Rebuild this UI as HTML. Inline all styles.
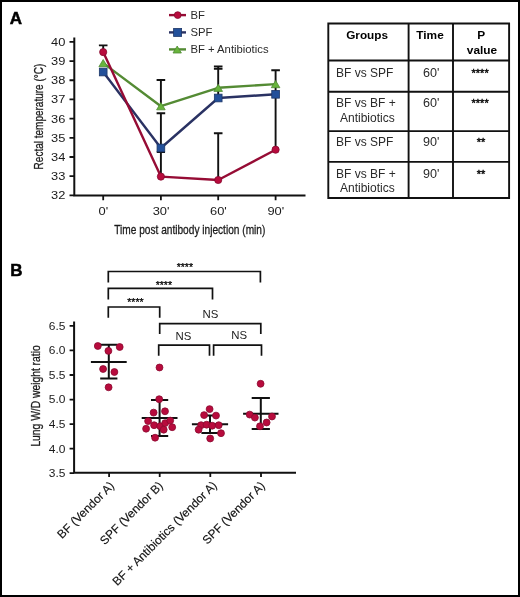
<!DOCTYPE html><html><head><meta charset="utf-8"><style>html,body{margin:0;padding:0;background:#fff;width:520px;height:597px;overflow:hidden}svg{display:block;will-change:transform}text{font-family:"Liberation Sans",sans-serif}</style></head><body><svg width="520" height="597" viewBox="0 0 520 597" font-family="Liberation Sans, sans-serif" fill="#1a1a1a"><rect x="1" y="1" width="518" height="595" fill="none" stroke="#000" stroke-width="2"/><text x="9.8" y="24" font-size="17" font-weight="bold" fill="#000" stroke="#000" stroke-width="0.5">A</text><text x="10.3" y="275.9" font-size="17" font-weight="bold" fill="#000" stroke="#000" stroke-width="0.5">B</text><path d="M74.3 37.5V196.4M73.3 195.4H305.5" stroke="#111" stroke-width="2" fill="none"/><path d="M69.5 195.40H74.3M69.5 176.21H74.3M69.5 157.02H74.3M69.5 137.83H74.3M69.5 118.64H74.3M69.5 99.45H74.3M69.5 80.26H74.3M69.5 61.07H74.3M69.5 41.88H74.3M103.2 195.4V200.2M160.9 195.4V200.2M218.2 195.4V200.2M275.6 195.4V200.2" stroke="#111" stroke-width="1.8" fill="none"/><text x="0" y="0" transform="translate(65.3 199.30) scale(1.17 1)" text-anchor="end" font-size="11">32</text><text x="0" y="0" transform="translate(65.3 180.11) scale(1.17 1)" text-anchor="end" font-size="11">33</text><text x="0" y="0" transform="translate(65.3 160.92) scale(1.17 1)" text-anchor="end" font-size="11">34</text><text x="0" y="0" transform="translate(65.3 141.73) scale(1.17 1)" text-anchor="end" font-size="11">35</text><text x="0" y="0" transform="translate(65.3 122.54) scale(1.17 1)" text-anchor="end" font-size="11">36</text><text x="0" y="0" transform="translate(65.3 103.35) scale(1.17 1)" text-anchor="end" font-size="11">37</text><text x="0" y="0" transform="translate(65.3 84.16) scale(1.17 1)" text-anchor="end" font-size="11">38</text><text x="0" y="0" transform="translate(65.3 64.97) scale(1.17 1)" text-anchor="end" font-size="11">39</text><text x="0" y="0" transform="translate(65.3 45.78) scale(1.17 1)" text-anchor="end" font-size="11">40</text><text x="0" y="0" transform="translate(103.4 214.5) scale(1.17 1)" text-anchor="middle" font-size="11">0'</text><text x="0" y="0" transform="translate(161.1 214.5) scale(1.17 1)" text-anchor="middle" font-size="11">30'</text><text x="0" y="0" transform="translate(218.39999999999998 214.5) scale(1.17 1)" text-anchor="middle" font-size="11">60'</text><text x="0" y="0" transform="translate(275.8 214.5) scale(1.17 1)" text-anchor="middle" font-size="11">90'</text><text x="0" y="0" transform="translate(114.2 234.3) scale(0.757 1)" font-size="13.4" stroke="#1a1a1a" stroke-width="0.3">Time post antibody injection (min)</text><text x="0" y="0" transform="translate(42.7 169.4) rotate(-90) scale(0.747 1)" font-size="13.4" stroke="#1a1a1a" stroke-width="0.3">Rectal temperature (°C)</text><path d="M103.2 45.4V52M98.9 45.4H107.5M160.9 80V104M156.6 80H165.20000000000002M160.9 113.3V176.6M156.6 113.3H165.20000000000002M156.8 152H165.0M218.2 66.4V98M213.89999999999998 66.4H222.5M213.89999999999998 68.8H222.5M218.2 133.2V180M213.89999999999998 133.2H222.5M275.6 70.3V149.7M271.3 70.3H279.90000000000003" stroke="#111" stroke-width="1.9" fill="none"/><path d="M103.2 63.1 L160.9 106.2 L218.2 87.8 L275.6 84.1" stroke="#548b34" stroke-width="2.4" fill="none" stroke-linejoin="round"/><path d="M103.2 72 L160.9 148 L218.2 98 L275.6 94.3" stroke="#2a3263" stroke-width="2.4" fill="none" stroke-linejoin="round"/><path d="M103.2 52.1 L160.9 176.6 L218.2 180 L275.6 149.7" stroke="#960c35" stroke-width="2.4" fill="none" stroke-linejoin="round"/><path d="M103.2 59.50L107.50 66.70L98.90 66.70Z" fill="#68b43c" stroke="#4f8a32" stroke-width="0.8"/><path d="M160.9 102.60L165.20 109.80L156.60 109.80Z" fill="#68b43c" stroke="#4f8a32" stroke-width="0.8"/><path d="M218.2 84.20L222.50 91.40L213.90 91.40Z" fill="#68b43c" stroke="#4f8a32" stroke-width="0.8"/><path d="M275.6 80.50L279.90 87.70L271.30 87.70Z" fill="#68b43c" stroke="#4f8a32" stroke-width="0.8"/><rect x="99.35" y="68.15" width="7.7" height="7.7" fill="#23509a" stroke="#1e3768" stroke-width="0.8"/><rect x="157.05" y="144.15" width="7.7" height="7.7" fill="#23509a" stroke="#1e3768" stroke-width="0.8"/><rect x="214.35" y="94.15" width="7.7" height="7.7" fill="#23509a" stroke="#1e3768" stroke-width="0.8"/><rect x="271.75" y="90.45" width="7.7" height="7.7" fill="#23509a" stroke="#1e3768" stroke-width="0.8"/><circle cx="103.2" cy="52.1" r="3.6" fill="#b80b3d" stroke="#850a2e" stroke-width="0.8"/><circle cx="160.9" cy="176.6" r="3.6" fill="#b80b3d" stroke="#850a2e" stroke-width="0.8"/><circle cx="218.2" cy="180" r="3.6" fill="#b80b3d" stroke="#850a2e" stroke-width="0.8"/><circle cx="275.6" cy="149.7" r="3.6" fill="#b80b3d" stroke="#850a2e" stroke-width="0.8"/><path d="M169 15.1H186" stroke="#960c35" stroke-width="2.4"/><circle cx="177.7" cy="15.1" r="3.4" fill="#b80b3d" stroke="#850a2e" stroke-width="0.8"/><path d="M169 32.4H186" stroke="#2a3263" stroke-width="2.4"/><rect x="173.60" y="28.40" width="8" height="8" fill="#23509a" stroke="#1e3768" stroke-width="0.8"/><path d="M169 49.4H186" stroke="#548b34" stroke-width="2.4"/><path d="M177.2 46.00L181.40 53.00L173.00 53.00Z" fill="#68b43c" stroke="#4f8a32" stroke-width="0.8"/><text x="190.4" y="19" font-size="11.3" fill="#2a2a2a">BF</text><text x="190.4" y="36.2" font-size="11.3" fill="#2a2a2a">SPF</text><text x="190.4" y="53" font-size="11.3" fill="#2a2a2a">BF + Antibiotics</text><path d="M327.5 23.5H510M327.5 60.5H510M327.5 91.8H510M327.5 131.1H510M327.5 161.9H510M327.5 198H510M328.3 22.6V198.9M408.6 22.6V198.9M453 22.6V198.9M509.1 22.6V198.9" stroke="#111" stroke-width="1.9" fill="none"/><text x="0" y="0" transform="translate(367.1 38.6) scale(1.07 1)" font-size="11" text-anchor="middle" font-weight="bold" fill="#000">Groups</text><text x="0" y="0" transform="translate(430 38.6) scale(1.08 1)" font-size="11" text-anchor="middle" font-weight="bold" fill="#000">Time</text><text x="0" y="0" transform="translate(481.3 38.6) scale(1.08 1)" font-size="11" text-anchor="middle" font-weight="bold" fill="#000">P</text><text x="0" y="0" transform="translate(482 53.8) scale(1.08 1)" font-size="11" text-anchor="middle" font-weight="bold" fill="#000">value</text><text x="0" y="0" transform="translate(336.0 76.9) scale(1.0 1)" font-size="12" text-anchor="start" font-weight="normal" fill="#2a2a2a">BF vs SPF</text><text x="0" y="0" transform="translate(431.2 76.9) scale(1.05 1)" font-size="12" text-anchor="middle" font-weight="normal" fill="#2a2a2a">60'</text><text x="0" y="0" transform="translate(480.1 76.60000000000001) scale(1.1 1)" font-size="10" text-anchor="middle" fill="#000" stroke="#000" stroke-width="0.35">****</text><text x="0" y="0" transform="translate(336.0 107.2) scale(1.0 1)" font-size="12" text-anchor="start" font-weight="normal" fill="#2a2a2a">BF vs BF +</text><text x="0" y="0" transform="translate(340.0 121.60000000000001) scale(1.0 1)" font-size="12" text-anchor="start" font-weight="normal" fill="#2a2a2a">Antibiotics</text><text x="0" y="0" transform="translate(431.2 107.2) scale(1.05 1)" font-size="12" text-anchor="middle" font-weight="normal" fill="#2a2a2a">60'</text><text x="0" y="0" transform="translate(480.1 106.9) scale(1.1 1)" font-size="10" text-anchor="middle" fill="#000" stroke="#000" stroke-width="0.35">****</text><text x="0" y="0" transform="translate(336.0 145.9) scale(1.0 1)" font-size="12" text-anchor="start" font-weight="normal" fill="#2a2a2a">BF vs SPF</text><text x="0" y="0" transform="translate(431.2 145.9) scale(1.05 1)" font-size="12" text-anchor="middle" font-weight="normal" fill="#2a2a2a">90'</text><text x="0" y="0" transform="translate(481 145.6) scale(1.1 1)" font-size="10" text-anchor="middle" fill="#000" stroke="#000" stroke-width="0.35">**</text><text x="0" y="0" transform="translate(336.0 177.8) scale(1.0 1)" font-size="12" text-anchor="start" font-weight="normal" fill="#2a2a2a">BF vs BF +</text><text x="0" y="0" transform="translate(340.0 192.20000000000002) scale(1.0 1)" font-size="12" text-anchor="start" font-weight="normal" fill="#2a2a2a">Antibiotics</text><text x="0" y="0" transform="translate(431.2 177.8) scale(1.05 1)" font-size="12" text-anchor="middle" font-weight="normal" fill="#2a2a2a">90'</text><text x="0" y="0" transform="translate(481 177.5) scale(1.1 1)" font-size="10" text-anchor="middle" fill="#000" stroke="#000" stroke-width="0.35">**</text><path d="M74.1 321.4V473.7M73.1 472.7H296" stroke="#111" stroke-width="2" fill="none"/><path d="M69.6 473.20H74.1M69.6 448.65H74.1M69.6 424.10H74.1M69.6 399.55H74.1M69.6 375.00H74.1M69.6 350.45H74.1M69.6 325.90H74.1M109.1 472.7V477M159.7 472.7V477M210.3 472.7V477M261 472.7V477" stroke="#111" stroke-width="1.8" fill="none"/><text x="0" y="0" transform="translate(65.5 477.10) scale(1.09 1)" text-anchor="end" font-size="11">3.5</text><text x="0" y="0" transform="translate(65.5 452.55) scale(1.09 1)" text-anchor="end" font-size="11">4.0</text><text x="0" y="0" transform="translate(65.5 428.00) scale(1.09 1)" text-anchor="end" font-size="11">4.5</text><text x="0" y="0" transform="translate(65.5 403.45) scale(1.09 1)" text-anchor="end" font-size="11">5.0</text><text x="0" y="0" transform="translate(65.5 378.90) scale(1.09 1)" text-anchor="end" font-size="11">5.5</text><text x="0" y="0" transform="translate(65.5 354.35) scale(1.09 1)" text-anchor="end" font-size="11">6.0</text><text x="0" y="0" transform="translate(65.5 329.80) scale(1.09 1)" text-anchor="end" font-size="11">6.5</text><text x="0" y="0" transform="translate(40.2 446.6) rotate(-90) scale(0.769 1)" font-size="13.4" stroke="#1a1a1a" stroke-width="0.3">Lung W/D weight ratio</text><text x="0" y="0" transform="translate(114.9 486.5) rotate(-45)" text-anchor="end" font-size="11.9" fill="#111" stroke="#111" stroke-width="0.15">BF (Vendor A)</text><text x="0" y="0" transform="translate(163.6 486.5) rotate(-45)" text-anchor="end" font-size="11.9" fill="#111" stroke="#111" stroke-width="0.15">SPF (Vendor B)</text><text x="0" y="0" transform="translate(217.6 486.1) rotate(-45)" text-anchor="end" font-size="11.9" fill="#111" stroke="#111" stroke-width="0.15">BF + Antibiotics (Vendor A)</text><text x="0" y="0" transform="translate(265.6 486.5) rotate(-45)" text-anchor="end" font-size="11.9" fill="#111" stroke="#111" stroke-width="0.15">SPF (Vendor A)</text><path d="M108.3 282.4V271.5H260.4V282.4M108.3 299.4V288.4H212.5V299.4M108.3 317.8V307H159.7V317.8M159.7 334V323.7H260.8V334M158.7 355.8V345.2H209.5V355.8M213.6 355.8V345.2H261.5V355.8" stroke="#111" stroke-width="1.7" fill="none"/><text x="184.85" y="271.1" font-size="10.5" text-anchor="middle" fill="#000" stroke="#000" stroke-width="0.25">****</text><text x="163.85" y="288.9" font-size="10.5" text-anchor="middle" fill="#000" stroke="#000" stroke-width="0.25">****</text><text x="135.45" y="305.5" font-size="10.5" text-anchor="middle" fill="#000" stroke="#000" stroke-width="0.25">****</text><text x="210.35" y="317.8" font-size="11.4" text-anchor="middle" fill="#222">NS</text><text x="183.45" y="340.1" font-size="11.4" text-anchor="middle" fill="#222">NS</text><text x="239.1" y="339.4" font-size="11.4" text-anchor="middle" fill="#222">NS</text><path d="M108.8 344.8V378.4M100.2 344.8H117.39999999999999M100.2 378.4H117.39999999999999M90.9 361.9H126.69999999999999M159.6 399.9V435.9M151.0 399.9H168.2M151.0 435.9H168.2M141.7 418H177.5M210 415.6V433M201.4 415.6H218.6M201.4 433H218.6M191.9 424.2H228.1M260.8 398V429M251.70000000000002 398H269.90000000000003M251.70000000000002 429H269.90000000000003M243.10000000000002 413.8H278.5" stroke="#111" stroke-width="2" fill="none"/><circle cx="97.8" cy="346" r="3.45" fill="#b80b3d" stroke="#8a0a30" stroke-width="0.8"/><circle cx="119.7" cy="347" r="3.45" fill="#b80b3d" stroke="#8a0a30" stroke-width="0.8"/><circle cx="108.4" cy="350.9" r="3.45" fill="#b80b3d" stroke="#8a0a30" stroke-width="0.8"/><circle cx="103.1" cy="369" r="3.45" fill="#b80b3d" stroke="#8a0a30" stroke-width="0.8"/><circle cx="114.4" cy="372" r="3.45" fill="#b80b3d" stroke="#8a0a30" stroke-width="0.8"/><circle cx="108.6" cy="387.3" r="3.45" fill="#b80b3d" stroke="#8a0a30" stroke-width="0.8"/><circle cx="159.5" cy="367.5" r="3.45" fill="#b80b3d" stroke="#8a0a30" stroke-width="0.8"/><circle cx="159.2" cy="399.2" r="3.45" fill="#b80b3d" stroke="#8a0a30" stroke-width="0.8"/><circle cx="153.6" cy="412.6" r="3.45" fill="#b80b3d" stroke="#8a0a30" stroke-width="0.8"/><circle cx="165" cy="411.3" r="3.45" fill="#b80b3d" stroke="#8a0a30" stroke-width="0.8"/><circle cx="148.1" cy="421.1" r="3.45" fill="#b80b3d" stroke="#8a0a30" stroke-width="0.8"/><circle cx="154.1" cy="425.2" r="3.45" fill="#b80b3d" stroke="#8a0a30" stroke-width="0.8"/><circle cx="160.2" cy="426.2" r="3.45" fill="#b80b3d" stroke="#8a0a30" stroke-width="0.8"/><circle cx="165.2" cy="423.1" r="3.45" fill="#b80b3d" stroke="#8a0a30" stroke-width="0.8"/><circle cx="170.2" cy="420.6" r="3.45" fill="#b80b3d" stroke="#8a0a30" stroke-width="0.8"/><circle cx="146.1" cy="428.7" r="3.45" fill="#b80b3d" stroke="#8a0a30" stroke-width="0.8"/><circle cx="172.2" cy="427.2" r="3.45" fill="#b80b3d" stroke="#8a0a30" stroke-width="0.8"/><circle cx="163.7" cy="429.7" r="3.45" fill="#b80b3d" stroke="#8a0a30" stroke-width="0.8"/><circle cx="155.1" cy="437.7" r="3.45" fill="#b80b3d" stroke="#8a0a30" stroke-width="0.8"/><circle cx="209.6" cy="409.1" r="3.45" fill="#b80b3d" stroke="#8a0a30" stroke-width="0.8"/><circle cx="204.1" cy="415.1" r="3.45" fill="#b80b3d" stroke="#8a0a30" stroke-width="0.8"/><circle cx="216" cy="415.6" r="3.45" fill="#b80b3d" stroke="#8a0a30" stroke-width="0.8"/><circle cx="201.1" cy="425.2" r="3.45" fill="#b80b3d" stroke="#8a0a30" stroke-width="0.8"/><circle cx="206.6" cy="424.7" r="3.45" fill="#b80b3d" stroke="#8a0a30" stroke-width="0.8"/><circle cx="212.2" cy="425.7" r="3.45" fill="#b80b3d" stroke="#8a0a30" stroke-width="0.8"/><circle cx="218.7" cy="425.2" r="3.45" fill="#b80b3d" stroke="#8a0a30" stroke-width="0.8"/><circle cx="198.6" cy="429.7" r="3.45" fill="#b80b3d" stroke="#8a0a30" stroke-width="0.8"/><circle cx="221" cy="433.2" r="3.45" fill="#b80b3d" stroke="#8a0a30" stroke-width="0.8"/><circle cx="210.2" cy="438.5" r="3.45" fill="#b80b3d" stroke="#8a0a30" stroke-width="0.8"/><circle cx="260.6" cy="383.8" r="3.45" fill="#b80b3d" stroke="#8a0a30" stroke-width="0.8"/><circle cx="249.7" cy="414.6" r="3.45" fill="#b80b3d" stroke="#8a0a30" stroke-width="0.8"/><circle cx="254.9" cy="417.6" r="3.45" fill="#b80b3d" stroke="#8a0a30" stroke-width="0.8"/><circle cx="272" cy="416.5" r="3.45" fill="#b80b3d" stroke="#8a0a30" stroke-width="0.8"/><circle cx="266.6" cy="422.5" r="3.45" fill="#b80b3d" stroke="#8a0a30" stroke-width="0.8"/><circle cx="260" cy="426.3" r="3.45" fill="#b80b3d" stroke="#8a0a30" stroke-width="0.8"/></svg></body></html>
